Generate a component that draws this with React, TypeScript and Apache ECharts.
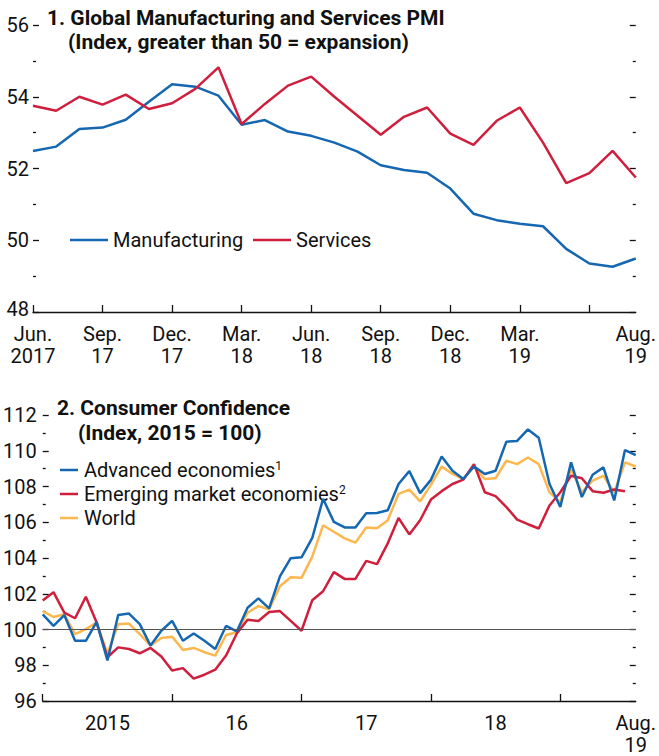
import React, { useEffect, useRef } from 'react';
import * as echarts from 'echarts';

const FONT = "Roboto, 'Liberation Sans', sans-serif";
const BLUE = '#1467b0';
const RED = '#cf1f3d';
const YELLOW = '#fcb84e';

// Panel 1: Global PMI, monthly Jun 2017 - Aug 2019
const pmiMonths = [
  '2017-06', '2017-07', '2017-08', '2017-09', '2017-10', '2017-11', '2017-12',
  '2018-01', '2018-02', '2018-03', '2018-04', '2018-05', '2018-06', '2018-07',
  '2018-08', '2018-09', '2018-10', '2018-11', '2018-12', '2019-01', '2019-02',
  '2019-03', '2019-04', '2019-05', '2019-06', '2019-07', '2019-08',
];
const manufacturing = [
  52.49, 52.61, 53.10, 53.14, 53.36, 53.86, 54.35, 54.28, 54.03, 53.22, 53.35,
  53.03, 52.91, 52.72, 52.47, 52.09, 51.96, 51.88, 51.44, 50.74, 50.56, 50.46,
  50.39, 49.76, 49.35, 49.26, 49.49,
];
const services = [
  53.75, 53.61, 54.0, 53.78, 54.06, 53.66, 53.82, 54.22, 54.82, 53.24, 53.80,
  54.31, 54.56, 54.0, 53.47, 52.94, 53.44, 53.70, 52.97, 52.66, 53.33, 53.70,
  52.72, 51.59, 51.87, 52.49, 51.75,
];
const pmiTickIdx = [0, 3, 6, 9, 12, 15, 18, 21, 24];
const pmiLabels: Record<number, string> = {
  0: 'Jun.\n2017', 3: 'Sep.\n17', 6: 'Dec.\n17', 9: 'Mar.\n18', 12: 'Jun.\n18',
  15: 'Sep.\n18', 18: 'Dec.\n18', 21: 'Mar.\n19', 26: 'Aug.\n19',
};

// Panel 2: Consumer confidence, monthly Jan 2015 - Aug 2019
const ccMonths = [
  '2015-01', '2015-02', '2015-03', '2015-04', '2015-05', '2015-06', '2015-07', '2015-08', '2015-09', '2015-10', '2015-11', '2015-12',
  '2016-01', '2016-02', '2016-03', '2016-04', '2016-05', '2016-06', '2016-07', '2016-08', '2016-09', '2016-10', '2016-11', '2016-12',
  '2017-01', '2017-02', '2017-03', '2017-04', '2017-05', '2017-06', '2017-07', '2017-08', '2017-09', '2017-10', '2017-11', '2017-12',
  '2018-01', '2018-02', '2018-03', '2018-04', '2018-05', '2018-06', '2018-07', '2018-08', '2018-09', '2018-10', '2018-11', '2018-12',
  '2019-01', '2019-02', '2019-03', '2019-04', '2019-05', '2019-06', '2019-07', '2019-08',
];
const advanced = [
  100.85, 100.2, 100.81, 99.37, 99.37, 100.42, 98.27, 100.81, 100.89, 100.3, 99.1, 99.93,
  100.48, 99.37, 99.78, 99.37, 98.91, 100.2, 99.89, 101.22, 101.74, 101.18, 102.97, 103.99,
  104.04, 105.13, 107.31, 106.02, 105.71, 105.71, 106.5, 106.52, 106.67, 108.14, 108.86, 107.63,
  108.37, 109.68, 108.88, 108.42, 109.12, 108.7, 108.88, 110.51, 110.55, 111.19, 110.73, 108.14,
  106.85, 109.35, 107.41, 108.66, 109.07, 107.22, 110.04, 109.75,
];
const emerging = [
  101.62, 102.09, 100.94, 100.63, 101.83, 100.39, 98.45, 99.0, 98.91, 98.67, 98.97, 98.49,
  97.71, 97.84, 97.25, 97.47, 97.75, 98.54, 99.78, 100.55, 100.48, 100.98, 101.03, 100.48,
  99.93, 101.64, 102.14, 103.21, 102.83, 102.83, 103.84, 103.66, 104.82, 106.24, 105.32, 106.11,
  107.27, 107.74, 108.14, 108.38, 109.25, 107.68, 107.46, 106.85, 106.15, 105.89, 105.65, 106.94,
  107.68, 108.6, 108.46, 107.74, 107.65, 107.83, 107.74, null,
];
const world = [
  101.03, 100.7, 100.85, 99.74, 100.02, 100.39, 98.63, 100.3, 100.33, 99.74, 99.1, 99.52,
  99.6, 98.85, 98.97, 98.73, 98.54, 99.69, 99.85, 100.94, 101.31, 101.13, 102.42, 102.92,
  102.89, 104.08, 105.83, 105.47, 105.1, 104.86, 105.71, 105.67, 106.11, 107.59, 107.83, 107.17,
  108.09, 109.12, 108.7, 108.42, 109.12, 108.42, 108.46, 109.44, 109.25, 109.62, 109.25, 107.68,
  107.13, 108.97, 107.68, 108.33, 108.6, 107.68, 109.35, 109.12,
];
const ccTickIdx = [0, 12, 24, 36, 48];
const ccLabels: Record<number, string> = { 6: '2015', 18: '16', 30: '17', 42: '18', 55: 'Aug.\n19' };

const textBase = { fontFamily: FONT, fontSize: 20, color: '#111' };

function yAxes(gridIndex: number, min: number, max: number, margin: number, liftMin: boolean) {
  const common = {
    gridIndex,
    type: 'value',
    min,
    max,
    interval: 2,
    splitLine: { show: false },
    axisLine: { show: false },
    axisTick: { show: true, inside: true, length: 6, lineStyle: { color: '#111', width: 1.3 } },
    minorTick: { show: true, splitNumber: 2, length: 3, lineStyle: { color: '#111', width: 1.3 } },
  };
  return [
    {
      ...common,
      position: 'left',
      axisLabel: {
        ...textBase,
        margin,
        formatter: (v: number) => (liftMin && v === min ? `{lo|${v}}` : String(v)),
        rich: { lo: { ...textBase, padding: [0, 0, 6, 0] } },
      },
    },
    {
      ...common,
      position: 'right',
      axisLabel: { show: false },
    },
  ];
}

function xAxis(gridIndex: number, data: string[], tickIdx: number[], labels: Record<number, string>) {
  return {
    gridIndex,
    type: 'category',
    data,
    boundaryGap: false,
    axisLine: { show: true, lineStyle: { color: '#111', width: 1.3 } },
    axisTick: {
      show: true,
      inside: true,
      length: 7,
      interval: (i: number) => tickIdx.includes(i),
      lineStyle: { color: '#111', width: 1.3 },
    },
    axisLabel: {
      ...textBase,
      margin: 11,
      lineHeight: 22,
      interval: (i: number) => labels[i] !== undefined,
      formatter: (_v: string, i: number) => labels[i] ?? '',
    },
    splitLine: { show: false },
  };
}

function lineSeries(name: string, data: (number | null)[], color: string, xi: number, yi: number, z: number) {
  return {
    name,
    type: 'line',
    data,
    xAxisIndex: xi,
    yAxisIndex: yi,
    symbol: 'none',
    z,
    lineStyle: { color, width: 2.5 },
    itemStyle: { color },
  };
}

function legendItem(x1: number, x2: number, y: number, color: string, text: string, tx: number) {
  return [
    { type: 'line', shape: { x1, y1: y, x2, y2: y }, style: { stroke: color, lineWidth: 2.5 } },
    {
      type: 'text',
      x: tx,
      y,
      style: {
        text,
        fill: '#111',
        fontFamily: FONT,
        fontSize: 20,
        verticalAlign: 'middle',
        align: 'left',
        rich: { sup: { fontFamily: FONT, fontSize: 12, verticalAlign: 'top', lineHeight: 12, fill: '#111' } },
      },
    },
  ];
}

function titleText(x: number, y: number, text: string) {
  return {
    type: 'text',
    x,
    y,
    style: { text, fill: '#111', fontFamily: FONT, fontSize: 21, fontWeight: 'bold', verticalAlign: 'middle', align: 'left' },
  };
}

export default function App() {
  const ref = useRef<HTMLDivElement>(null);
  useEffect(() => {
    if (!ref.current) return;
    const chart = echarts.init(ref.current, undefined, { renderer: 'svg' });
    chart.setOption({
      animation: false,
      backgroundColor: '#fff',
      grid: [
        { left: 33, right: 16, top: 25, height: 287 },
        { left: 42, right: 16, top: 415, height: 288 },
      ],
      xAxis: [xAxis(0, pmiMonths, pmiTickIdx, pmiLabels), xAxis(1, ccMonths, ccTickIdx, ccLabels)],
      yAxis: [...yAxes(0, 48, 56, 4, true), ...yAxes(1, 96, 112, 6, false)],
      series: [
        lineSeries('Manufacturing', manufacturing, BLUE, 0, 0, 3),
        lineSeries('Services', services, RED, 0, 0, 4),
        {
          ...lineSeries('World', world, YELLOW, 1, 2, 2),
          markLine: {
            silent: true,
            symbol: 'none',
            label: { show: false },
            lineStyle: { color: '#555', width: 1, type: 'solid' },
            data: [{ yAxis: 100 }],
          },
        },
        lineSeries('Emerging market economies', emerging, RED, 1, 2, 3),
        lineSeries('Advanced economies', advanced, BLUE, 1, 2, 4),
      ],
      graphic: [
        titleText(47, 18, '1. Global Manufacturing and Services PMI'),
        titleText(68, 42, '(Index, greater than 50 = expansion)'),
        titleText(57, 408, '2. Consumer Confidence'),
        titleText(78, 433, '(Index, 2015 = 100)'),
        ...legendItem(70, 108, 240, BLUE, 'Manufacturing', 113),
        ...legendItem(253, 291, 240, RED, 'Services', 296),
        ...legendItem(60, 78, 470, BLUE, 'Advanced economies{sup|1}', 84),
        ...legendItem(60, 78, 494, RED, 'Emerging market economies{sup|2}', 84),
        ...legendItem(60, 78, 518, YELLOW, 'World', 84),
      ],
    });
    return () => chart.dispose();
  }, []);
  return <div ref={ref} style={{ position: 'absolute', left: 0, top: 0, width: 659, height: 756 }} />;
}
